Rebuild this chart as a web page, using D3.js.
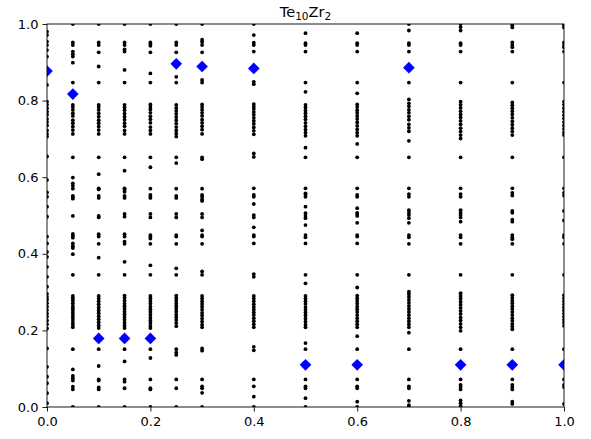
<!DOCTYPE html>
<html>
<head>
<meta charset="utf-8">
<script src="https://cdn.jsdelivr.net/npm/d3@7"></script>
<style>
  body { margin: 0; background: #fff; }
  svg { display: block; font-family: "DejaVu Sans", sans-serif; }
</style>
</head>
<body>
<div id="chart"></div>
<script>
// column positions of the black dots
var xCols = [0, 0.05, 0.1, 0.15, 0.2, 0.25, 0.3, 0.4, 0.5, 0.6, 0.7, 0.8, 0.9, 1.0];

var col000 = [0.980, 0.971, 0.954, 0.945, 0.932, 0.915, 0.841, 0.797, 0.789, 0.780, 0.771, 0.763, 0.752, 0.744, 0.735, 0.722, 0.713, 0.706, 0.654, 0.593, 0.560, 0.549, 0.523, 0.497, 0.445, 0.427, 0.405, 0.392, 0.366, 0.340, 0.314, 0.295, 0.287, 0.280, 0.271, 0.262, 0.253, 0.244, 0.236, 0.226, 0.216, 0.205, 0.153, 0.105, 0.079, 0.062, 0.036, 0.010];
var col005 = [1.0, 0.952, 0.945, 0.928, 0.921, 0.915, 0.899, 0.847, 0.789, 0.783, 0.776, 0.767, 0.760, 0.749, 0.741, 0.732, 0.723, 0.713, 0.652, 0.599, 0.584, 0.578, 0.570, 0.551, 0.548, 0.544, 0.499, 0.452, 0.447, 0.442, 0.427, 0.420, 0.415, 0.399, 0.345, 0.290, 0.284, 0.278, 0.271, 0.264, 0.258, 0.252, 0.246, 0.240, 0.234, 0.227, 0.220, 0.214, 0.208, 0.151, 0.098, 0.081, 0.075, 0.069, 0.053, 0.046, 0.0];
var col010 = [1.0, 0.952, 0.945, 0.926, 0.889, 0.847, 0.789, 0.783, 0.776, 0.767, 0.758, 0.749, 0.741, 0.732, 0.723, 0.713, 0.652, 0.608, 0.571, 0.568, 0.551, 0.546, 0.499, 0.495, 0.451, 0.445, 0.426, 0.390, 0.345, 0.290, 0.283, 0.276, 0.268, 0.260, 0.252, 0.245, 0.237, 0.229, 0.221, 0.213, 0.206, 0.151, 0.107, 0.072, 0.069, 0.051, 0.046, 0.0];
var col015 = [1.0, 0.952, 0.945, 0.934, 0.928, 0.880, 0.847, 0.789, 0.782, 0.775, 0.766, 0.758, 0.750, 0.741, 0.733, 0.722, 0.713, 0.652, 0.617, 0.571, 0.567, 0.562, 0.551, 0.546, 0.504, 0.497, 0.451, 0.445, 0.432, 0.426, 0.379, 0.345, 0.291, 0.285, 0.278, 0.270, 0.263, 0.256, 0.249, 0.242, 0.235, 0.228, 0.220, 0.213, 0.206, 0.151, 0.119, 0.072, 0.066, 0.049, 0.0];
var col020 = [1.0, 0.952, 0.948, 0.943, 0.926, 0.871, 0.847, 0.790, 0.783, 0.777, 0.768, 0.759, 0.751, 0.742, 0.731, 0.722, 0.713, 0.652, 0.626, 0.570, 0.554, 0.549, 0.546, 0.504, 0.495, 0.449, 0.445, 0.440, 0.426, 0.370, 0.345, 0.290, 0.284, 0.277, 0.270, 0.262, 0.255, 0.248, 0.241, 0.233, 0.226, 0.219, 0.212, 0.206, 0.151, 0.128, 0.072, 0.049, 0.046, 0.0];
var col025 = [1.0, 0.952, 0.945, 0.926, 0.862, 0.847, 0.789, 0.781, 0.773, 0.765, 0.757, 0.749, 0.740, 0.731, 0.722, 0.714, 0.706, 0.652, 0.637, 0.570, 0.551, 0.546, 0.504, 0.495, 0.449, 0.445, 0.426, 0.362, 0.345, 0.291, 0.284, 0.277, 0.270, 0.263, 0.256, 0.249, 0.241, 0.234, 0.227, 0.219, 0.211, 0.151, 0.142, 0.136, 0.072, 0.049, 0.0];
var col030 = [1.0, 0.959, 0.953, 0.945, 0.926, 0.854, 0.847, 0.790, 0.783, 0.776, 0.768, 0.760, 0.750, 0.742, 0.733, 0.724, 0.713, 0.652, 0.647, 0.570, 0.554, 0.549, 0.542, 0.538, 0.504, 0.495, 0.461, 0.449, 0.445, 0.426, 0.354, 0.345, 0.290, 0.283, 0.276, 0.269, 0.262, 0.254, 0.246, 0.239, 0.231, 0.223, 0.215, 0.208, 0.153, 0.147, 0.072, 0.054, 0.049, 0.037, 0.0];
var col040 = [1.0, 0.971, 0.951, 0.945, 0.928, 0.849, 0.843, 0.791, 0.784, 0.778, 0.770, 0.763, 0.755, 0.747, 0.739, 0.730, 0.721, 0.712, 0.662, 0.653, 0.571, 0.554, 0.549, 0.530, 0.501, 0.495, 0.469, 0.449, 0.445, 0.427, 0.347, 0.340, 0.290, 0.283, 0.276, 0.268, 0.261, 0.254, 0.247, 0.240, 0.232, 0.224, 0.216, 0.208, 0.157, 0.148, 0.072, 0.054, 0.027, 0.0];
var col050 = [0.976, 0.950, 0.945, 0.928, 0.847, 0.823, 0.789, 0.782, 0.774, 0.767, 0.759, 0.751, 0.742, 0.733, 0.724, 0.716, 0.708, 0.677, 0.652, 0.571, 0.558, 0.554, 0.549, 0.523, 0.506, 0.499, 0.493, 0.475, 0.449, 0.443, 0.427, 0.345, 0.323, 0.290, 0.283, 0.276, 0.269, 0.261, 0.254, 0.247, 0.239, 0.231, 0.223, 0.215, 0.208, 0.167, 0.151, 0.072, 0.054, 0.049, 0.023, 0.0];
var col060 = [0.976, 0.950, 0.945, 0.928, 0.847, 0.819, 0.790, 0.783, 0.775, 0.768, 0.760, 0.752, 0.743, 0.734, 0.725, 0.716, 0.708, 0.687, 0.652, 0.571, 0.554, 0.549, 0.519, 0.507, 0.504, 0.499, 0.481, 0.449, 0.445, 0.427, 0.345, 0.312, 0.291, 0.284, 0.277, 0.270, 0.262, 0.255, 0.248, 0.240, 0.232, 0.224, 0.216, 0.208, 0.185, 0.151, 0.072, 0.054, 0.049, 0.014, 0.0];
var col070 = [1.0, 0.983, 0.950, 0.945, 0.928, 0.847, 0.803, 0.793, 0.785, 0.776, 0.768, 0.759, 0.750, 0.738, 0.729, 0.720, 0.695, 0.652, 0.571, 0.556, 0.549, 0.514, 0.507, 0.501, 0.493, 0.481, 0.449, 0.443, 0.426, 0.345, 0.301, 0.295, 0.288, 0.280, 0.272, 0.264, 0.256, 0.248, 0.240, 0.232, 0.224, 0.216, 0.208, 0.194, 0.151, 0.072, 0.054, 0.049, 0.016, 0.005, 0.0];
var col080 = [1.0, 0.992, 0.983, 0.950, 0.945, 0.928, 0.847, 0.797, 0.789, 0.781, 0.772, 0.764, 0.756, 0.747, 0.738, 0.728, 0.719, 0.710, 0.701, 0.652, 0.571, 0.556, 0.549, 0.514, 0.507, 0.501, 0.495, 0.484, 0.449, 0.443, 0.426, 0.345, 0.297, 0.290, 0.283, 0.275, 0.267, 0.259, 0.251, 0.243, 0.234, 0.226, 0.217, 0.208, 0.199, 0.151, 0.072, 0.058, 0.052, 0.046, 0.017, 0.010, 0.003];
var col090 = [0.997, 0.991, 0.952, 0.945, 0.939, 0.928, 0.847, 0.795, 0.788, 0.780, 0.772, 0.764, 0.755, 0.746, 0.737, 0.728, 0.719, 0.710, 0.652, 0.571, 0.559, 0.552, 0.512, 0.507, 0.489, 0.484, 0.449, 0.443, 0.438, 0.426, 0.345, 0.292, 0.285, 0.278, 0.271, 0.263, 0.256, 0.248, 0.240, 0.232, 0.225, 0.217, 0.210, 0.203, 0.151, 0.072, 0.058, 0.052, 0.046, 0.014, 0.008];
var col100 = [0.997, 0.991, 0.952, 0.945, 0.939, 0.928, 0.847, 0.797, 0.789, 0.780, 0.771, 0.762, 0.753, 0.744, 0.735, 0.726, 0.717, 0.710, 0.652, 0.571, 0.559, 0.552, 0.512, 0.487, 0.449, 0.443, 0.426, 0.345, 0.292, 0.284, 0.276, 0.268, 0.260, 0.252, 0.244, 0.236, 0.228, 0.220, 0.212, 0.151, 0.072, 0.058, 0.052, 0.008];

var yCols = [col000, col005, col010, col015, col020, col025, col030, col040, col050, col060, col070, col080, col090, col100];

// blue diamonds
var diamondX = [0, 0.05, 0.1, 0.15, 0.2, 0.25, 0.3, 0.4, 0.5, 0.6, 0.7, 0.8, 0.9, 1.0];
var diamondY = [0.877, 0.817, 0.179, 0.179, 0.179, 0.896, 0.889, 0.884, 0.110, 0.110, 0.886, 0.110, 0.110, 0.110];

var xTicks = [0, 0.2, 0.4, 0.6, 0.8, 1.0];
var yTicks = [0, 0.2, 0.4, 0.6, 0.8, 1.0];

var width = 591, height = 439,
    margin = {top: 24, right: 27, bottom: 32, left: 47},
    innerW = width - margin.left - margin.right,
    innerH = height - margin.top - margin.bottom;

var svg = d3.select("#chart").append("svg")
  .attr("width", width)
  .attr("height", height);

var x = d3.scaleLinear().domain([0, 1]).range([0, innerW]);
var y = d3.scaleLinear().domain([0, 1]).range([innerH, 0]);

var g = svg.append("g")
  .attr("transform", "translate(" + margin.left + "," + margin.top + ")");

g.append("clipPath").attr("id", "clip")
  .append("rect").attr("width", innerW).attr("height", innerH);

var points = [];
xCols.forEach(function(xv, i) {
  yCols[i].forEach(function(yv) { points.push([xv, yv]); });
});

var plot = g.append("g").attr("clip-path", "url(#clip)");

plot.selectAll(".dot")
  .data(points)
  .enter().append("circle")
  .attr("class", "dot")
  .attr("cx", function(d) { return x(d[0]); })
  .attr("cy", function(d) { return y(d[1]); })
  .attr("r", 1.9)
  .attr("fill", "#000");

var diamond = d3.symbol().type(d3.symbolSquare).size(68);
plot.selectAll(".dia")
  .data(diamondX.map(function(v, i) { return [v, diamondY[i]]; }))
  .enter().append("path")
  .attr("class", "dia")
  .attr("d", diamond)
  .attr("transform", function(d) {
    return "translate(" + x(d[0]) + "," + y(d[1]) + ") rotate(45)";
  })
  .attr("fill", "#0000ff");

// axes
var xAxis = d3.axisBottom(x).tickValues(xTicks).tickFormat(d3.format(".1f"))
  .tickSizeInner(4.5).tickSizeOuter(0).tickPadding(5);
var yAxis = d3.axisLeft(y).tickValues(yTicks).tickFormat(d3.format(".1f"))
  .tickSizeInner(4.5).tickSizeOuter(0).tickPadding(4);

var gx = g.append("g").attr("transform", "translate(0," + innerH + ")").call(xAxis);
var gy = g.append("g").call(yAxis);
[gx, gy].forEach(function(a) {
  a.selectAll("text").attr("font-size", 13).attr("fill", "#000")
    .attr("font-family", "DejaVu Sans");
  a.selectAll("line").attr("stroke", "#000").attr("stroke-width", 0.9);
  a.select(".domain").remove();
});

// frame
g.append("rect")
  .attr("width", innerW)
  .attr("height", innerH)
  .attr("fill", "none")
  .attr("stroke", "#000")
  .attr("stroke-width", 0.9);

// title Te10Zr2
var title = svg.append("text")
  .attr("x", margin.left + innerW / 2)
  .attr("y", 17)
  .attr("text-anchor", "middle")
  .attr("font-size", 14.5)
  .attr("fill", "#000");
title.append("tspan").text("Te");
title.append("tspan").attr("baseline-shift", "-25%").attr("font-size", 10.5).text("10");
title.append("tspan").text("Zr");
title.append("tspan").attr("baseline-shift", "-25%").attr("font-size", 10.5).text("2");
</script>
</body>
</html>
